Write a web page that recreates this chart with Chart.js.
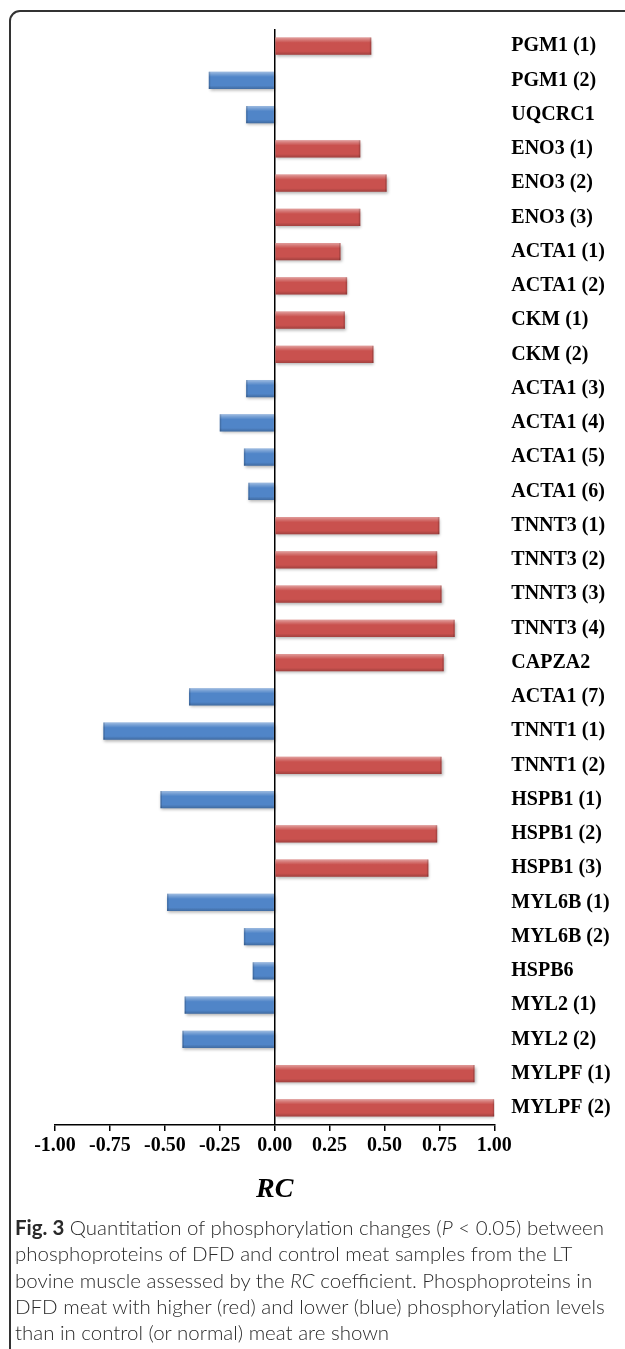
<!DOCTYPE html>
<html><head><meta charset="utf-8">
<script src="https://cdn.jsdelivr.net/npm/chart.js@4.4.1/dist/chart.umd.min.js"></script>
<style>
html,body{margin:0;padding:0;background:#fff;}
#wrap{position:relative;width:625px;height:1349px;overflow:hidden;}
#frame{position:absolute;left:9px;top:10px;width:800px;height:1500px;border:2px solid #333;border-top-left-radius:11px;box-sizing:border-box;}
#c{position:absolute;left:0;top:0;}
#cap{position:absolute;left:15px;top:1214px;font-family:Lato,"Open Sans",sans-serif;font-weight:300;color:#2a2a2a;font-size:19.5px;white-space:nowrap;}
#cap div{height:26.3px;line-height:26.3px;}
#cap b{font-weight:700;}
</style></head>
<body><div id="wrap"><div id="frame"></div><canvas id="c" width="625" height="1215"></canvas>
<div id="cap">
<div><b>Fig. 3</b> Quantitation of phosphorylation changes (<i>P</i> &lt; 0.05) between</div>
<div>phosphoproteins of DFD and control meat samples from the LT</div>
<div>bovine muscle assessed by the <i>RC</i> coefficient. Phosphoproteins in</div>
<div><span id="longest">DFD meat with higher (red) and lower (blue) phosphorylation levels</span></div>
<div>than in control (or normal) meat are shown</div>
</div></div>
<script>
const categories = ["PGM1 (1)","PGM1 (2)","UQCRC1","ENO3 (1)","ENO3 (2)","ENO3 (3)","ACTA1 (1)","ACTA1 (2)","CKM (1)","CKM (2)","ACTA1 (3)","ACTA1 (4)","ACTA1 (5)","ACTA1 (6)","TNNT3 (1)","TNNT3 (2)","TNNT3 (3)","TNNT3 (4)","CAPZA2","ACTA1 (7)","TNNT1 (1)","TNNT1 (2)","HSPB1 (1)","HSPB1 (2)","HSPB1 (3)","MYL6B (1)","MYL6B (2)","HSPB6","MYL2 (1)","MYL2 (2)","MYLPF (1)","MYLPF (2)"];
const rcValues = [0.44,-0.30,-0.13,0.39,0.51,0.39,0.30,0.33,0.32,0.45,-0.13,-0.25,-0.14,-0.12,0.75,0.74,0.76,0.82,0.77,-0.39,-0.78,0.76,-0.52,0.74,0.70,-0.49,-0.14,-0.10,-0.41,-0.42,0.91,1.00];
const xTickValues = [-1,-0.75,-0.5,-0.25,0,0.25,0.5,0.75,1];
const axisTitle = "RC";
const RED = "#C9514E", BLUE = "#5085C8";
const SERIF = '"Liberation Serif","Times New Roman",serif';

const bevel = {
  id: 'bevel',
  beforeDatasetsDraw(chart){
    const c = chart.ctx; c.save();
    c.shadowColor = 'rgba(0,0,0,0.3)'; c.shadowBlur = 3; c.shadowOffsetX = 1; c.shadowOffsetY = 2;
  },
  afterDatasetsDraw(chart){
    const c = chart.ctx; c.restore(); c.save();
    chart.getDatasetMeta(0).data.forEach(el => {
      const p = el.getProps(['x','y','base','height'], true);
      const l = Math.min(p.x,p.base), r = Math.max(p.x,p.base), t = p.y - p.height/2, b = p.y + p.height/2;
      const g = c.createLinearGradient(0,t,0,b);
      g.addColorStop(0,'rgba(255,255,255,0.45)');
      g.addColorStop(0.14,'rgba(255,255,255,0.22)');
      g.addColorStop(0.3,'rgba(255,255,255,0)');
      g.addColorStop(0.8,'rgba(0,0,0,0)');
      g.addColorStop(1,'rgba(0,0,0,0.2)');
      c.fillStyle = g; c.fillRect(l,t,r-l,b-t);
      c.fillStyle = 'rgba(0,0,0,0.15)';
      if (p.x >= p.base) c.fillRect(r-1.5,t,1.5,b-t); else c.fillRect(l,t,1.5,b-t);
    });
    c.restore();
  }
};

new Chart(document.getElementById('c'), {
  type: 'bar',
  data: { labels: categories, datasets: [{ data: rcValues, backgroundColor: ctx => ctx.raw >= 0 ? RED : BLUE, barPercentage: 0.5, categoryPercentage: 1, borderWidth: 0 }] },
  options: {
    indexAxis: 'y', responsive: false, animation: false, devicePixelRatio: 1,
    layout: { padding: { left: 55, top: 27.5, right: 0, bottom: 0 } },
    plugins: { legend: { display: false }, tooltip: { enabled: false } },
    scales: {
      x: {
        type: 'linear', min: -1, max: 1,
        afterBuildTicks: s => { s.ticks = xTickValues.map(v => ({ value: v })); },
        afterFit: s => { s.height = 90; },
        border: { display: true, color: '#000', width: 1.5 },
        grid: { color: c => (c.tick && c.tick.value === 0) ? '#000' : 'rgba(0,0,0,0)', lineWidth: 1.5, drawTicks: true, tickLength: 6, tickColor: '#000', tickWidth: 1.5 },
        ticks: { callback: v => Number(v).toFixed(2), color: '#000', font: { family: SERIF, weight: 'bold', size: 20 }, padding: 3, maxRotation: 0, autoSkip: false },
        title: { display: true, text: axisTitle, color: '#000', font: { family: SERIF, weight: 'bold', style: 'italic', size: 28 }, padding: { top: 0, bottom: 8 } }
      },
      y: {
        position: 'right',
        afterFit: s => { s.width = 130.7; },
        border: { display: false },
        grid: { display: false, drawTicks: false },
        ticks: { color: '#000', font: { family: SERIF, weight: 'bold', size: 20 }, padding: 17, crossAlign: 'near', autoSkip: false }
      }
    }
  },
  plugins: [bevel]
});

(function fit(){
  const cap = document.getElementById('cap');
  const sp = document.getElementById('longest');
  const w = sp.getBoundingClientRect().width;
  const fs = 19.5 * 590 / w;
  cap.style.fontSize = fs.toFixed(2) + 'px';
})();
</script>
</body></html>
